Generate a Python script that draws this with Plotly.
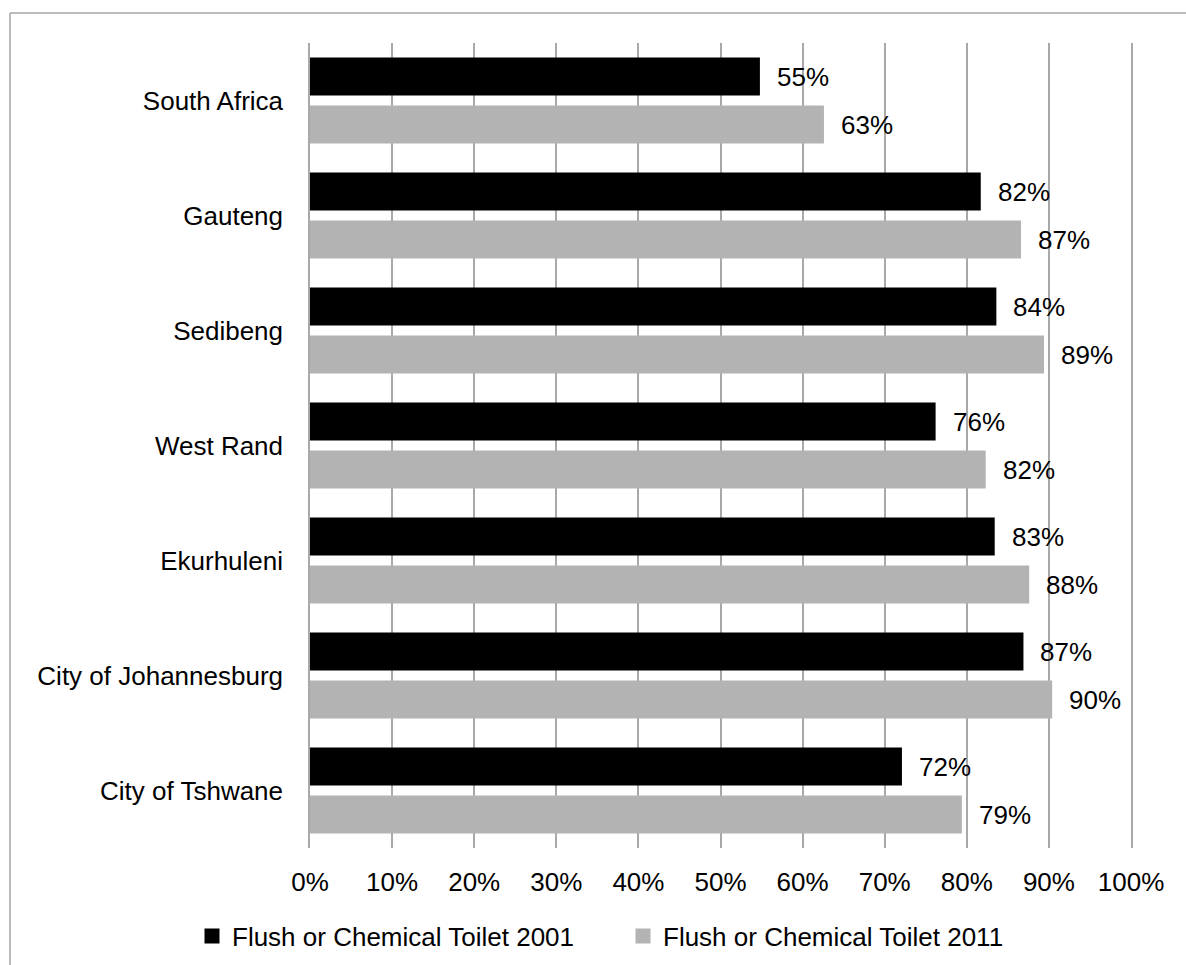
import plotly.graph_objects as go

# Share of households with a flush or chemical toilet, by area
areas = [
    "South Africa",
    "Gauteng",
    "Sedibeng",
    "West Rand",
    "Ekurhuleni",
    "City of Johannesburg",
    "City of Tshwane",
]
toilet_2001 = [0.548, 0.817, 0.836, 0.762, 0.834, 0.869, 0.721]
toilet_2011 = [0.626, 0.866, 0.894, 0.823, 0.876, 0.904, 0.794]
series_names = ["Flush or Chemical Toilet 2001", "Flush or Chemical Toilet 2011"]
x_ticks = [0, 0.1, 0.2, 0.3, 0.4, 0.5, 0.6, 0.7, 0.8, 0.9, 1.0]

FONT = "Liberation Sans, Arial, sans-serif"
FS = 26
BLACK = "#000000"
GREY = "#b3b3b3"
GRID = "#a9a9a9"

W, H = 1186, 965
M_L, M_R, M_T, M_B = 310, 55, 43, 117
PW = W - M_L - M_R
PH = H - M_T - M_B


def px_x(p):
    return (p - M_L) / PW


def px_y(p):
    return (H - M_B - p) / PH


fig = go.Figure()
for name, vals, col in [(series_names[0], toilet_2001, BLACK),
                        (series_names[1], toilet_2011, GREY)]:
    fig.add_trace(go.Bar(
        name=name, y=areas, x=vals, orientation="h",
        marker=dict(color=col, line=dict(width=0)),
        showlegend=False, hoverinfo="skip",
    ))
    # square legend keys
    fig.add_trace(go.Scatter(
        name=name, x=[None], y=[None], mode="markers",
        marker=dict(symbol="square", size=15, color=col),
        showlegend=True,
    ))

# value labels beside each bar
annotations = []
for vals, shift in [(toilet_2001, 24), (toilet_2011, -24)]:
    for a, v in zip(areas, vals):
        annotations.append(dict(
            x=v, y=a, xref="x", yref="y", text=f"{v:.0%}",
            showarrow=False, xanchor="left", yanchor="middle",
            xshift=15, yshift=shift,
            font=dict(family=FONT, size=FS, color=BLACK),
        ))

# chart-area frame: top and left edges (the others run off the page)
frame = dict(color="#a6a6a6", width=1.5)
shapes = [
    dict(type="line", xref="paper", yref="paper",
         x0=px_x(10), x1=px_x(1220), y0=px_y(13), y1=px_y(13), line=frame),
    dict(type="line", xref="paper", yref="paper",
         x0=px_x(10), x1=px_x(10), y0=px_y(13), y1=px_y(1000), line=frame),
]

fig.update_layout(
    width=W, height=H,
    margin=dict(l=M_L, r=M_R, t=M_T, b=M_B, autoexpand=False),
    paper_bgcolor="white", plot_bgcolor="white",
    barmode="group", bargap=0.165, bargroupgap=0.208,
    font=dict(family=FONT, size=FS, color=BLACK),
    annotations=annotations,
    shapes=shapes,
    legend=dict(
        orientation="h", x=px_x(192), xanchor="left",
        y=px_y(936), yanchor="middle",
        font=dict(family=FONT, size=FS, color=BLACK),
        itemwidth=30, entrywidth=386, traceorder="normal",
        bgcolor="rgba(0,0,0,0)",
    ),
)
fig.update_xaxes(
    range=[0, 1], tickvals=x_ticks, tickformat=".0%",
    showgrid=True, gridcolor=GRID, gridwidth=1.5,
    zeroline=False, showline=False, ticks="",
    ticklabelstandoff=16,
    tickfont=dict(family=FONT, size=FS, color=BLACK),
)
fig.update_yaxes(
    autorange="reversed", type="category",
    showline=True, mirror=True, linecolor=GRID, linewidth=1.5,
    showgrid=False, zeroline=False, ticks="",
    ticklabelstandoff=20,
    tickfont=dict(family=FONT, size=FS, color=BLACK),
)

fig.write_html("out.html")
